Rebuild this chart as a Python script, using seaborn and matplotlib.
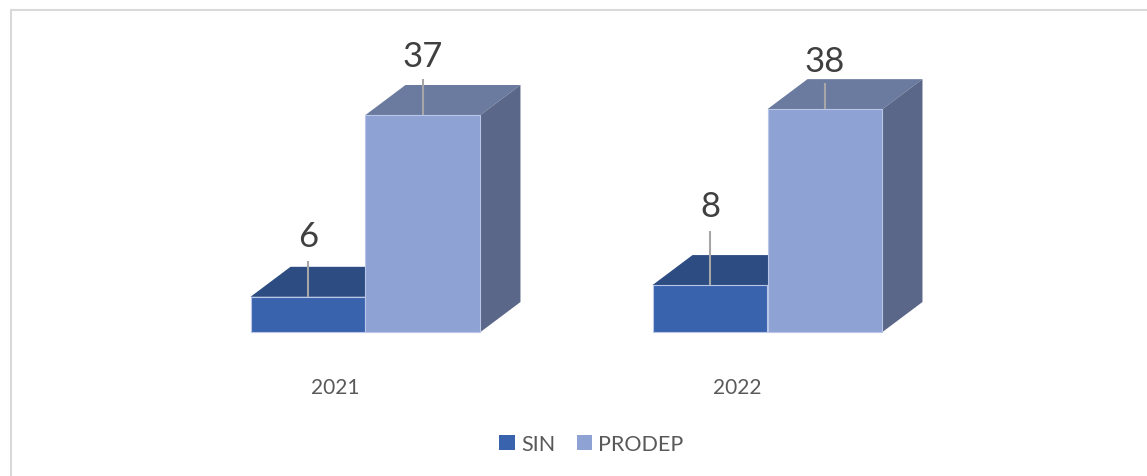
import numpy as np
import pandas as pd
import matplotlib
matplotlib.use("Agg")
import matplotlib.pyplot as plt
import matplotlib.transforms as mtransforms
from matplotlib.patches import Polygon, Patch
from matplotlib.lines import Line2D
import seaborn as sns

# ---- data ----
years = ["2021", "2022"]
series = ["SIN", "PRODEP"]
sin_values = [6, 8]
prodep_values = [37, 38]

# ---- style ----
front_colors = {"SIN": "#3A63AD", "PRODEP": "#8FA2D4"}
top_colors = {"SIN": "#2C4C82", "PRODEP": "#6B7B9F"}
side_colors = {"SIN": "#23406F", "PRODEP": "#5B6788"}
# label baseline / leader start, in pixels above the front top edge
label_off = {"SIN": [51, 69], "PRODEP": [49, 38]}
leader_off = {"SIN": [36, 54], "PRODEP": [36, 26]}

df = pd.DataFrame({
    "year": years * 2,
    "serie": ["SIN"] * len(years) + ["PRODEP"] * len(years),
    "value": sin_values + prodep_values,
})

sns.set_theme(style="white")
plt.rcParams["font.family"] = ["Lato", "DejaVu Sans"]

W, H = 1147, 477
fig = plt.figure(figsize=(W / 100, H / 100), dpi=100)
fig.patch.set_facecolor("white")
ax = fig.add_axes([0, 0, 1, 1])

sns.barplot(data=df, x="year", y="value", hue="serie", order=years,
            hue_order=series, palette=front_colors, width=0.572,
            saturation=1, legend=False, errorbar=None, ax=ax, zorder=1,
            linewidth=0.8, edgecolor="#B9C6E8")

px_per_cat = 402.0
x0 = 365.5
ax.set_xlim(-x0 / px_per_cat, (W - x0) / px_per_cat)
ppu = 5.865
base = H - 333
ax.set_ylim(-base / ppu, (H - base) / ppu)
ax.axis("off")

dx = 40 / px_per_cat
dy = 30 / ppu

for cont, name in zip(ax.containers, series):
    for i, bar in enumerate(cont):
        x = bar.get_x(); w = bar.get_width(); h = bar.get_height()
        ax.add_patch(Polygon([(x, h), (x + dx, h + dy), (x + w + dx, h + dy), (x + w, h)],
                             closed=True, facecolor=top_colors[name], edgecolor="none", zorder=0.5))
        ax.add_patch(Polygon([(x + w, 0), (x + w + dx, dy), (x + w + dx, h + dy), (x + w, h)],
                             closed=True, facecolor=side_colors[name], edgecolor="none", zorder=0.5))
        cx = x + w / 2
        ax.plot([cx, cx], [h, h + leader_off[name][i] / ppu], color="#A6A6A6", lw=1.5,
                zorder=3, solid_capstyle="butt")
        ax.annotate(f"{h:g}", xy=(cx, h), xytext=(0, label_off[name][i]),
                    textcoords="offset pixels", ha="center", va="baseline",
                    fontsize=25, color="#404040", zorder=4)

trans = mtransforms.blended_transform_factory(ax.transData, ax.transAxes)
for i, yr in enumerate(years):
    ax.text(i - 30.5 / px_per_cat, 1 - 394.5 / H, yr, transform=trans,
            ha="center", va="baseline", fontsize=15, color="#595959")

# chart border
fig.add_artist(Line2D([11 / W, 11 / W], [0, 1 - 11 / H], transform=fig.transFigure,
                      color="#D9D9D9", lw=1.5))
fig.add_artist(Line2D([11 / W, 1], [1 - 11 / H, 1 - 11 / H], transform=fig.transFigure,
                      color="#D9D9D9", lw=1.5))

handles = [Patch(facecolor=front_colors[s], edgecolor="none") for s in series]
fig.legend(handles, series, loc="center", bbox_to_anchor=(591.5 / W, 1 - 445 / H),
           ncol=2, frameon=False, fontsize=15.5, handlelength=0.7, handleheight=0.7,
           handletextpad=0.3, columnspacing=1.0, labelcolor="#595959")

fig.savefig("out.png", dpi=100)
